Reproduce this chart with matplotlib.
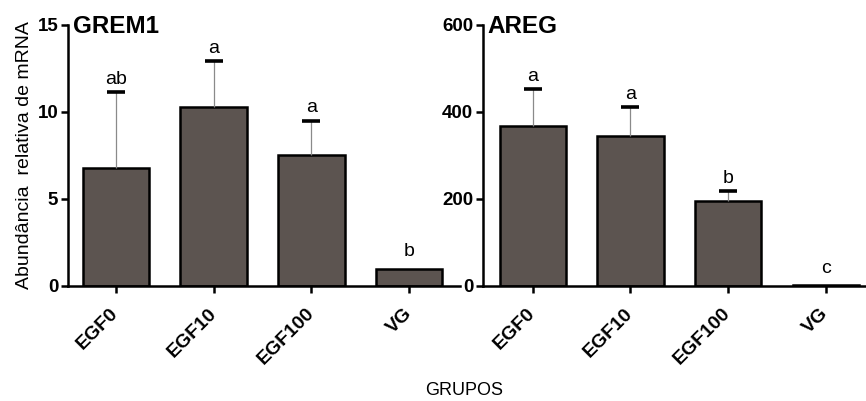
import numpy as np
import matplotlib
matplotlib.use("Agg")
from matplotlib import pyplot as plt

plt.rcParams['font.family'] = ['Liberation Sans', 'DejaVu Sans']

groups = ['EGF0', 'EGF10', 'EGF100', 'VG']

# GREM1
grem1_mean = [6.8, 10.3, 7.5, 1.0]
grem1_err = [4.35, 2.6, 2.0, 0.0]
grem1_letters = ['ab', 'a', 'a', 'b']

# AREG
areg_mean = [368, 345, 195, 2]
areg_err = [85, 67, 23, 0]
areg_letters = ['a', 'a', 'b', 'c']

BAR_COLOR = '#5c5450'

fig = plt.figure(figsize=(8.66, 4.01), dpi=100)
ax1 = fig.add_axes([0.0785, 0.2868, 0.4527, 0.651])
ax2 = fig.add_axes([0.5577, 0.2868, 0.441, 0.651])


def draw_panel(ax, means, errs, letters, title, ymax, yticks, xlim):
    x = np.arange(len(groups))
    means = np.asarray(means, dtype=float)
    errs = np.asarray(errs, dtype=float)
    ax.bar(x, means, width=0.68, color=BAR_COLOR, edgecolor='black',
           linewidth=1.8, zorder=2)
    # upper error only: thin grey stem + heavy black cap
    has = errs > 0
    ax.vlines(x[has], means[has], means[has] + errs[has], color='#8a8a8a',
              linewidth=0.9, zorder=3)
    ax.plot(x[has], means[has] + errs[has], linestyle='none', marker='_',
            markersize=13, markeredgewidth=2.6, color='black', zorder=4)
    for xi, m, e, lab in zip(x, means, errs, letters):
        off = 3 if e > 0 else 6
        ax.annotate(lab, (xi, m + e), xytext=(0, off), textcoords='offset points',
                    ha='center', va='bottom', fontsize=14)
    ax.set_xlim(*xlim)
    ax.set_ylim(0, ymax)
    ax.set_yticks(yticks)
    ax.set_xticks(x)
    ax.set_xticklabels(groups, rotation=45, ha='right', va='center',
                       rotation_mode='anchor', fontweight='bold', fontsize=14)
    for lab in ax.get_yticklabels():
        lab.set_fontweight('bold')
        lab.set_fontsize(13.5)
    ax.spines['top'].set_visible(False)
    ax.spines['right'].set_visible(False)
    ax.spines['left'].set_linewidth(1.8)
    ax.spines['bottom'].set_linewidth(1.8)
    ax.tick_params(axis='both', width=1.8, length=5, pad=2)
    ax.tick_params(axis='x', pad=13)
    ax.text(0.012, 0.969, title, transform=ax.transAxes, ha='left',
            va='baseline', fontsize=17.5, fontweight='bold')


draw_panel(ax1, grem1_mean, grem1_err, grem1_letters, 'GREM1', 15,
           [0, 5, 10, 15], (-0.49, 3.52))
draw_panel(ax2, areg_mean, areg_err, areg_letters, 'AREG', 600,
           [0, 200, 400, 600], (-0.51, 3.40))

ax1.set_ylabel('Abundância  relativa de mRNA', fontsize=14, labelpad=3)
fig.text(0.536, 0.025, 'GRUPOS', ha='center', va='center', fontsize=13)

fig.savefig('out.png', dpi=100)
